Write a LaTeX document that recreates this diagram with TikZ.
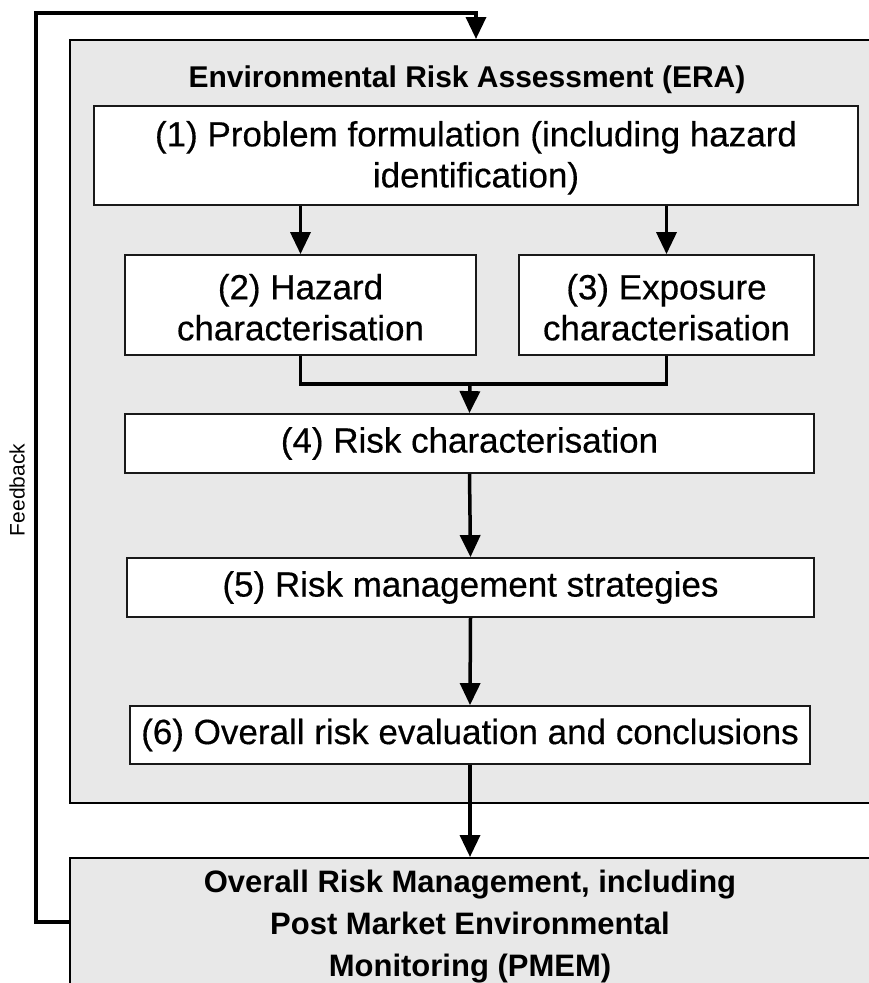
\documentclass[tikz,border=0pt]{standalone}
\usepackage{fontspec}
\setmainfont{Liberation Sans}
\newfontfamily\medfont{Liberation Sans}[FakeBold=0.4]
\usetikzlibrary{arrows.meta}
\definecolor{eragray}{HTML}{E8E8E8}
\tikzset{
  x=1pt,y=-1pt,
  stepbox/.style={draw=black!90,line width=1.8pt,fill=white,align=center,inner sep=0pt,
    font=\medfont\fontsize{35}{41}\selectfont},
  graybox/.style={draw=black,line width=2pt,fill=eragray,inner sep=0pt},
  conn/.style={line width=3.5pt,draw=black},
  arr/.style={conn,-{Triangle[width=20pt,length=22pt]}},
}
\begin{document}
\begin{tikzpicture}
\useasboundingbox (0,0) rectangle (869,983);
% containers
\node[graybox,minimum width=810pt,minimum height=763pt] (era) at (475,421.5) {};
\node[graybox,minimum width=810pt,minimum height=140pt] (pmem) at (475,928) {};
\node[align=center,font=\fontsize{31}{42}\selectfont\bfseries] (pmemtext) at (470,927)
  {Overall Risk Management, including\\Post Market Environmental\\Monitoring (PMEM)};
\node[font=\fontsize{30}{34}\selectfont\bfseries] (title) at (467,80) {Environmental Risk Assessment (ERA)};
% steps
\node[stepbox,minimum width=764pt,minimum height=99pt] (b1) at (476,155.5)
  {\rule{0pt}{30pt}(1) Problem formulation (including hazard\\identification)};
\node[stepbox,minimum width=351pt,minimum height=100pt] (b2) at (300.5,305)
  {\rule{0pt}{30pt}(2) Hazard\\characterisation};
\node[stepbox,minimum width=295pt,minimum height=100pt] (b3) at (666.5,305)
  {\rule{0pt}{30pt}(3) Exposure\\characterisation};
\node[stepbox,minimum width=689pt,minimum height=59pt] (b4) at (469.5,443.5)
  {(4) Risk characterisation};
\node[stepbox,minimum width=687pt,minimum height=59pt] (b5) at (470.5,587.5)
  {(5) Risk management strategies};
\node[stepbox,minimum width=680pt,minimum height=58pt] (b6) at (470,735)
  {(6) Overall risk evaluation and conclusions};
% connectors
\draw[arr] (b1.south -| b2.north) -- (b2.north);
\draw[arr] (b1.south -| b3.north) -- (b3.north);
\coordinate (join) at (470,384);
\draw[conn] (b2.south) |- (join) -| (b3.south);
\draw[arr] (join) -- (b4.north);
\draw[arr] (b4.south) -- (b5.north);
\draw[arr] (b5.south) -- (b6.north);
\draw[arr] (b6.south) -- (pmem.north -| b6.south);
% feedback loop
\coordinate (fbbottom) at (36,922);
\coordinate (fbtop) at (36,13);
\coordinate (fbend) at (476,13);
\draw[arr] (pmem.west |- fbbottom) -- (fbbottom) -- (fbtop) -- (fbend) -- (era.north -| fbend);
\node[rotate=90,font=\fontsize{21}{24}\selectfont] (fb) at (17,490) {Feedback};
\end{tikzpicture}
\end{document}
